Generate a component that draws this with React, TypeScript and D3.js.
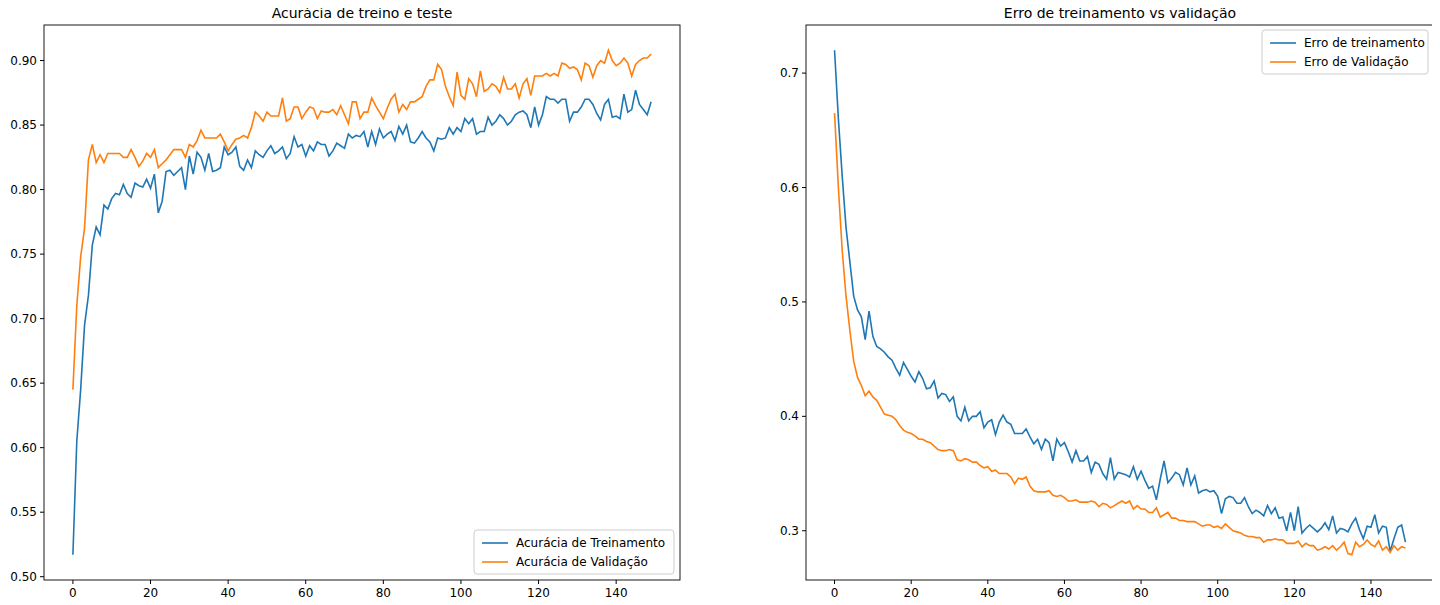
import * as d3 from 'd3';

const trainAcc = [0.517,0.605,0.645,0.695,0.718,0.757,0.771,0.765,0.788,0.785,0.793,0.797,0.796,0.804,0.797,0.794,0.805,0.803,0.802,0.808,0.801,0.812,0.782,0.791,0.814,0.815,0.811,0.814,0.817,0.800,0.826,0.812,0.829,0.825,0.815,0.828,0.814,0.815,0.817,0.833,0.827,0.829,0.833,0.818,0.815,0.823,0.817,0.830,0.827,0.825,0.830,0.834,0.828,0.830,0.833,0.824,0.828,0.841,0.833,0.835,0.826,0.834,0.830,0.837,0.835,0.835,0.826,0.830,0.836,0.834,0.832,0.843,0.840,0.842,0.841,0.845,0.833,0.845,0.835,0.847,0.840,0.843,0.845,0.838,0.849,0.843,0.850,0.837,0.836,0.840,0.845,0.840,0.837,0.830,0.840,0.839,0.840,0.848,0.843,0.848,0.845,0.855,0.851,0.855,0.843,0.845,0.845,0.856,0.850,0.853,0.858,0.855,0.850,0.853,0.858,0.860,0.861,0.858,0.848,0.864,0.850,0.858,0.872,0.870,0.870,0.867,0.870,0.870,0.853,0.860,0.860,0.864,0.870,0.870,0.866,0.859,0.854,0.866,0.870,0.856,0.857,0.855,0.874,0.860,0.862,0.877,0.866,0.862,0.858,0.868];
const valAcc = [0.645,0.710,0.748,0.770,0.823,0.835,0.821,0.827,0.821,0.828,0.828,0.828,0.828,0.825,0.825,0.831,0.825,0.818,0.822,0.828,0.825,0.831,0.817,0.820,0.823,0.827,0.831,0.831,0.831,0.825,0.835,0.833,0.838,0.846,0.840,0.840,0.840,0.840,0.843,0.837,0.830,0.835,0.839,0.840,0.842,0.840,0.848,0.860,0.857,0.853,0.860,0.857,0.857,0.857,0.871,0.853,0.855,0.864,0.864,0.855,0.860,0.864,0.863,0.855,0.861,0.860,0.860,0.862,0.858,0.865,0.858,0.851,0.868,0.868,0.855,0.860,0.860,0.871,0.865,0.860,0.855,0.863,0.870,0.874,0.860,0.866,0.862,0.868,0.868,0.870,0.872,0.880,0.885,0.885,0.897,0.893,0.880,0.872,0.865,0.891,0.873,0.870,0.886,0.882,0.872,0.892,0.876,0.878,0.882,0.880,0.875,0.887,0.878,0.878,0.882,0.871,0.882,0.886,0.873,0.888,0.888,0.888,0.890,0.888,0.890,0.888,0.898,0.897,0.894,0.895,0.893,0.885,0.898,0.896,0.887,0.896,0.900,0.898,0.908,0.900,0.896,0.898,0.902,0.898,0.888,0.897,0.900,0.902,0.902,0.905];
const trainLoss = [0.72,0.66,0.61,0.565,0.535,0.505,0.493,0.487,0.467,0.492,0.470,0.461,0.459,0.456,0.452,0.449,0.442,0.436,0.447,0.441,0.435,0.430,0.439,0.433,0.424,0.425,0.431,0.416,0.420,0.419,0.413,0.417,0.400,0.396,0.408,0.396,0.400,0.400,0.404,0.390,0.395,0.397,0.384,0.395,0.401,0.395,0.393,0.385,0.385,0.385,0.389,0.382,0.376,0.380,0.371,0.380,0.377,0.361,0.380,0.374,0.377,0.369,0.360,0.370,0.361,0.361,0.365,0.351,0.360,0.358,0.350,0.345,0.364,0.345,0.351,0.350,0.349,0.347,0.356,0.345,0.352,0.344,0.337,0.339,0.327,0.345,0.361,0.342,0.346,0.351,0.349,0.340,0.355,0.340,0.348,0.333,0.335,0.336,0.334,0.335,0.330,0.315,0.328,0.330,0.329,0.324,0.324,0.329,0.321,0.315,0.318,0.316,0.313,0.322,0.315,0.320,0.311,0.312,0.300,0.316,0.300,0.321,0.298,0.302,0.305,0.302,0.299,0.302,0.307,0.301,0.313,0.298,0.302,0.301,0.299,0.306,0.311,0.301,0.293,0.304,0.303,0.314,0.298,0.304,0.303,0.282,0.293,0.303,0.305,0.290];
const valLoss = [0.665,0.600,0.545,0.505,0.475,0.448,0.434,0.427,0.418,0.422,0.417,0.414,0.408,0.402,0.401,0.400,0.397,0.392,0.388,0.386,0.385,0.383,0.380,0.380,0.378,0.377,0.374,0.371,0.370,0.370,0.371,0.370,0.362,0.361,0.363,0.362,0.360,0.360,0.357,0.355,0.356,0.352,0.353,0.350,0.350,0.350,0.347,0.341,0.346,0.345,0.347,0.339,0.335,0.334,0.334,0.334,0.335,0.331,0.330,0.331,0.329,0.326,0.326,0.327,0.325,0.325,0.325,0.326,0.325,0.321,0.324,0.323,0.320,0.322,0.324,0.326,0.324,0.326,0.319,0.322,0.319,0.319,0.316,0.316,0.320,0.312,0.314,0.316,0.311,0.311,0.309,0.309,0.308,0.308,0.308,0.306,0.304,0.305,0.305,0.303,0.304,0.302,0.306,0.303,0.300,0.299,0.298,0.296,0.295,0.295,0.294,0.294,0.290,0.292,0.292,0.293,0.292,0.292,0.289,0.289,0.289,0.291,0.286,0.289,0.287,0.287,0.283,0.284,0.286,0.284,0.287,0.283,0.286,0.290,0.280,0.279,0.290,0.286,0.288,0.292,0.288,0.286,0.291,0.283,0.286,0.281,0.287,0.283,0.286,0.285];

const xTicks = [0, 20, 40, 60, 80, 100, 120, 140];
const accTicks = [0.5, 0.55, 0.6, 0.65, 0.7, 0.75, 0.8, 0.85, 0.9];
const lossTicks = [0.3, 0.4, 0.5, 0.6, 0.7];

const BLUE = '#1f77b4';
const ORANGE = '#ff7f0e';
const FONT = 'DejaVu Sans, sans-serif';

interface PanelProps {
  left: number; right: number; top: number; bottom: number;
  title: string;
  series: { values: number[]; color: string; label: string }[];
  yTicks: number[];
  yFmt: (v: number) => string;
  legendPos: 'lower right' | 'upper right';
}

function Panel({ left, right, top, bottom, title, series, yTicks, yFmt, legendPos }: PanelProps) {
  const all = series.flatMap(s => s.values);
  const [lo, hi] = d3.extent(all) as [number, number];
  const pad = (hi - lo) * 0.05;
  const n = series[0].values.length - 1;
  const x = d3.scaleLinear().domain([-n * 0.05, n * 1.05]).range([left, right]);
  const y = d3.scaleLinear().domain([lo - pad, hi + pad]).range([bottom, top]);
  const line = d3.line<number>().x((_, i) => x(i)).y(d => y(d));

  const legW = legendPos === 'lower right' ? 200 : 166;
  const legH = 44;
  const lx = right - legW - 6;
  const ly = legendPos === 'lower right' ? bottom - legH - 6 : top + 5;

  return (
    <g>
      <text x={(left + right) / 2} y={top - 7} textAnchor="middle" fontSize={14} fontFamily={FONT}>{title}</text>
      {series.map(s => (
        <path key={s.label} d={line(s.values) ?? ''} fill="none" stroke={s.color} strokeWidth={1.6} />
      ))}
      <rect x={left} y={top} width={right - left} height={bottom - top} fill="none" stroke="#000" strokeWidth={0.9} />
      {xTicks.map(t => (
        <g key={t}>
          <line x1={x(t)} x2={x(t)} y1={bottom} y2={bottom + 4} stroke="#000" />
          <text x={x(t)} y={bottom + 17} textAnchor="middle" fontSize={12} fontFamily={FONT}>{t}</text>
        </g>
      ))}
      {yTicks.map(t => (
        <g key={t}>
          <line x1={left - 4} x2={left} y1={y(t)} y2={y(t)} stroke="#000" />
          <text x={left - 7} y={y(t) + 4} textAnchor="end" fontSize={12} fontFamily={FONT}>{yFmt(t)}</text>
        </g>
      ))}
      <rect x={lx} y={ly} width={legW} height={legH} rx={3} fill="#fff" fillOpacity={0.8} stroke="#ccc" />
      {series.map((s, i) => (
        <g key={s.label}>
          <line x1={lx + 8} x2={lx + 34} y1={ly + 13 + i * 19} y2={ly + 13 + i * 19} stroke={s.color} strokeWidth={1.6} />
          <text x={lx + 42} y={ly + 17 + i * 19} fontSize={12} fontFamily={FONT}>{s.label}</text>
        </g>
      ))}
    </g>
  );
}

export default function App() {
  return (
    <svg width={1440} height={605} style={{ display: 'block', margin: '-8px 0 0 -8px' }}>
      <rect width={1440} height={605} fill="#fff" />
      <Panel left={44} right={680} top={25} bottom={580}
        title="Acurácia de treino e teste"
        series={[
          { values: trainAcc, color: BLUE, label: 'Acurácia de Treinamento' },
          { values: valAcc, color: ORANGE, label: 'Acurácia de Validação' },
        ]}
        yTicks={accTicks} yFmt={d3.format('.2f')} legendPos="lower right" />
      <Panel left={806} right={1434} top={25} bottom={580}
        title="Erro de treinamento vs validação"
        series={[
          { values: trainLoss, color: BLUE, label: 'Erro de treinamento' },
          { values: valLoss, color: ORANGE, label: 'Erro de Validação' },
        ]}
        yTicks={lossTicks} yFmt={d3.format('.1f')} legendPos="upper right" />
    </svg>
  );
}
